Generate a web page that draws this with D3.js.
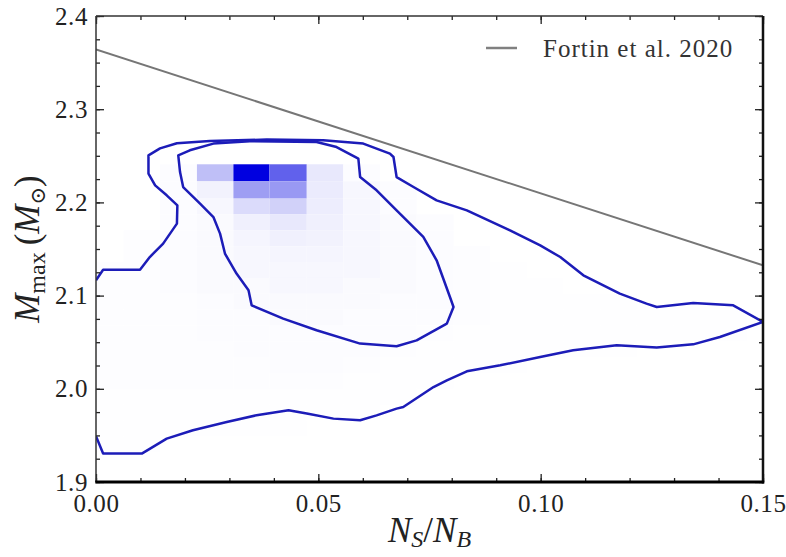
<!DOCTYPE html>
<html>
<head>
<meta charset="utf-8">
<script src="https://cdn.jsdelivr.net/npm/d3@7"></script>
<style>
  body { margin: 0; background: #fff; }
  text { font-family: "Liberation Serif", "DejaVu Serif", serif; }
</style>
</head>
<body>
<div id="container"></div>
<script>

// Tick values
var xTicks = [0.00, 0.05, 0.10, 0.15];
var yTicks = [1.9, 2.0, 2.1, 2.2, 2.3, 2.4];

// Fortin et al. 2020 bound (two end points)
var fortinX = [0.0, 0.15];
var fortinY = [2.364, 2.1325];

// Histogram bin edges
var xEdges = [0, 0.0062, 0.0144, 0.0227, 0.0309, 0.0390, 0.0474, 0.0556, 0.0639, 0.0721,
    0.0804, 0.0886, 0.0969, 0.1051, 0.1134, 0.1216, 0.1299, 0.1381, 0.1464, 0.15];
var yEdges = [2.2409, 2.2226, 2.2041, 2.1872, 2.1701, 2.1530, 2.1360, 2.1190, 2.1020,
    2.0850, 2.0680, 2.0510, 2.0340, 2.0170, 2.0000, 1.9830, 1.9660, 1.9490, 1.9320];

// Histogram counts, one row per y bin (top to bottom)
var counts = [
    [0, 0, 1, 25, 100, 62, 9, 1, 0, 0, 0, 0, 0, 0, 0, 0, 0, 0, 0],
    [0, 0, 1, 5, 38, 40, 8, 3, 1, 0, 0, 0, 0, 0, 0, 0, 0, 0, 0],
    [0, 0, 1, 3, 14, 18, 7, 3, 1, 0, 0, 0, 0, 0, 0, 0, 0, 0, 0],
    [0, 0, 1, 2, 6, 9, 6, 3, 2, 1, 0, 0, 0, 0, 0, 0, 0, 0, 0],
    [0, 0.6, 1, 2, 4, 6, 5, 3, 2, 1, 0, 0, 0, 0, 0, 0, 0, 0, 0],
    [0, 0.6, 1, 2, 3, 4, 4, 3, 2, 1, 0.6, 0, 0, 0, 0, 0, 0, 0, 0],
    [0.6, 0.6, 1, 2, 3, 3, 3, 3, 2, 1, 0.6, 0.3, 0, 0, 0, 0, 0, 0, 0],
    [0.6, 0.6, 1, 2, 2, 3, 3, 2, 2, 1, 0.6, 0.3, 0.3, 0, 0, 0, 0, 0, 0],
    [0.6, 0.6, 0.6, 1, 2, 2, 2, 2, 1, 1, 0.6, 0.3, 0.3, 0.3, 0.3, 0, 0, 0, 0],
    [0.6, 0.6, 0.6, 1, 1, 2, 2, 1, 1, 1, 0.6, 0.3, 0.3, 0.3, 0.3, 0.3, 0.3, 0.3, 0],
    [0.6, 0.6, 0.6, 1, 1, 1, 1, 1, 1, 0.6, 0.3, 0.3, 0.3, 0.3, 0.3, 0.3, 0.3, 0.3, 0],
    [0.6, 0.6, 0.6, 0.6, 1, 1, 1, 1, 0.6, 0.3, 0.3, 0.3, 0.3, 0.3, 0.3, 0, 0, 0, 0],
    [0.6, 0.6, 0.6, 0.6, 0.6, 1, 1, 0.6, 0.3, 0.3, 0.3, 0.3, 0, 0, 0, 0, 0, 0, 0],
    [0.6, 0.6, 0.6, 0.6, 0.6, 0.6, 0.6, 0.3, 0.3, 0.3, 0, 0, 0, 0, 0, 0, 0, 0, 0],
    [0.3, 0.3, 0.3, 0.3, 0.3, 0.3, 0.3, 0.3, 0.3, 0, 0, 0, 0, 0, 0, 0, 0, 0, 0],
    [0.3, 0.3, 0.3, 0.3, 0.3, 0.3, 0.3, 0.3, 0, 0, 0, 0, 0, 0, 0, 0, 0, 0, 0],
    [0.3, 0.3, 0.3, 0.3, 0.3, 0.3, 0, 0, 0, 0, 0, 0, 0, 0, 0, 0, 0, 0, 0],
    [0.3, 0.3, 0, 0, 0, 0, 0, 0, 0, 0, 0, 0, 0, 0, 0, 0, 0, 0, 0]
];

// Outer contour (open at the left edge)
var outerX = [0, 0.0016, 0.0099, 0.0121, 0.0151, 0.0182, 0.0183, 0.0159, 0.0133, 0.0118,
    0.0118, 0.0144, 0.0182, 0.0256, 0.0384, 0.0511, 0.0601, 0.0661, 0.0669, 0.0676,
    0.0714, 0.0766, 0.0834, 0.0931, 0.0999, 0.1044, 0.1096, 0.1178, 0.1238, 0.1261,
    0.1343, 0.1433, 0.15, 0.1403, 0.1343, 0.1261, 0.1171, 0.1073, 0.0999, 0.0909,
    0.0834, 0.0789, 0.0759, 0.0691, 0.0676, 0.0631, 0.0594, 0.0534, 0.0474, 0.0433,
    0.0361, 0.0294, 0.0218, 0.0159, 0.0103, 0.0016, 0];
var outerY = [2.1164, 2.1277, 2.1277, 2.1414, 2.1558, 2.1772, 2.1969, 2.2076, 2.2183, 2.2309,
    2.2505, 2.2580, 2.2634, 2.2659, 2.2674, 2.2666, 2.2631, 2.2524, 2.2487, 2.2272,
    2.2165, 2.2022, 2.1915, 2.1700, 2.1539, 2.1414, 2.1218, 2.1021, 2.0914, 2.0878,
    2.0920, 2.0896, 2.0717, 2.0556, 2.0477, 2.0442, 2.0467, 2.0413, 2.0341, 2.0252,
    2.0188, 2.0091, 2.0019, 1.9805, 1.9787, 1.9715, 1.9662, 1.9680, 1.9734, 1.9769,
    1.9716, 1.9644, 1.9555, 1.9465, 1.9305, 1.9305, 1.9490];

// Inner contour (closed)
var innerX = [0.0185, 0.0189, 0.0196, 0.0234, 0.0264, 0.0279, 0.0290, 0.0316, 0.0343, 0.0350,
    0.0421, 0.0496, 0.0594, 0.0676, 0.0721, 0.0789, 0.0804, 0.0796, 0.0766, 0.0736,
    0.0676, 0.0631, 0.0594, 0.0590, 0.0541, 0.0496, 0.0346, 0.0264, 0.0211];
var innerY = [2.2505, 2.2326, 2.2165, 2.1987, 2.1843, 2.1665, 2.1451, 2.1236, 2.1057, 2.0896,
    2.0753, 2.0628, 2.0485, 2.0456, 2.0520, 2.0699, 2.0878, 2.0985, 2.1379, 2.1629,
    2.1915, 2.2130, 2.2272, 2.2470, 2.2594, 2.2648, 2.2656, 2.2631, 2.2559];

// Basic parameters
var WIDTH = 786,
    HEIGHT = 557;
var margin = { left: 96, right: 23, top: 16, bottom: 75 };

var svg = d3.select('#container')
    .append('svg')
    .attr('width', WIDTH)
    .attr('height', HEIGHT);

var x = d3.scaleLinear()
    .domain([0, 0.15])
    .range([margin.left, WIDTH - margin.right]);

var y = d3.scaleLinear()
    .domain([1.9, 2.4])
    .range([HEIGHT - margin.bottom, margin.top]);

var color = d3.scaleLinear()
    .domain([0, 100])
    .range(['#ffffff', '#0000e0']);

svg.append('clipPath')
    .attr('id', 'plot-clip')
    .append('rect')
    .attr('x', x(0))
    .attr('y', y(2.4))
    .attr('width', x(0.15) - x(0))
    .attr('height', y(1.9) - y(2.4));

var plot = svg.append('g').attr('clip-path', 'url(#plot-clip)');

// Histogram cells
var cells = [];
counts.forEach(function(row, j) {
    row.forEach(function(v, i) {
        if (v > 0) cells.push({ i: i, j: j, v: v });
    });
});

plot.selectAll('.cell')
    .data(cells)
    .enter()
    .append('rect')
    .attr('class', 'cell')
    .attr('x', function(d) { return x(xEdges[d.i]); })
    .attr('y', function(d) { return y(yEdges[d.j]); })
    .attr('width', function(d) { return x(xEdges[d.i + 1]) - x(xEdges[d.i]); })
    .attr('height', function(d) { return y(yEdges[d.j + 1]) - y(yEdges[d.j]); })
    .attr('fill', function(d) { return color(d.v); });

// Contours
var line = d3.line()
    .x(function(d) { return x(d[0]); })
    .y(function(d) { return y(d[1]); });

plot.append('path')
    .datum(d3.zip(outerX, outerY))
    .attr('d', line)
    .attr('fill', 'none')
    .attr('stroke', '#1c1cb8')
    .attr('stroke-width', 2.5)
    .attr('stroke-linejoin', 'round');

plot.append('path')
    .datum(d3.zip(innerX, innerY))
    .attr('d', function(d) { return line(d) + 'Z'; })
    .attr('fill', 'none')
    .attr('stroke', '#1c1cb8')
    .attr('stroke-width', 2.5)
    .attr('stroke-linejoin', 'round');

// Fortin et al. line
plot.append('path')
    .datum(d3.zip(fortinX, fortinY))
    .attr('d', line)
    .attr('fill', 'none')
    .attr('stroke', '#767676')
    .attr('stroke-width', 2);

// Axes: major + minor ticks, pointing inward on all four sides
var xMinor = d3.range(0, 0.1501, 0.01);
var yMinor = d3.range(1.9, 2.4001, 0.025);

var drawAxis = function(axis, tx, ty) {
    var g = svg.append('g')
        .attr('transform', 'translate(' + tx + ',' + ty + ')')
        .call(axis);
    g.select('.domain').remove();
    g.selectAll('.tick line').attr('stroke', '#222').attr('stroke-width', 1.3);
    return g;
};

var yb = y(1.9), yt = y(2.4), xl = x(0), xr = x(0.15);

drawAxis(d3.axisBottom(x).tickValues(xTicks).tickSize(-8).tickPadding(12)
    .tickFormat(d3.format('.2f')), 0, yb);
drawAxis(d3.axisBottom(x).tickValues(xMinor).tickSize(-4).tickFormat(''), 0, yb);
drawAxis(d3.axisTop(x).tickValues(xTicks).tickSize(-8).tickFormat(''), 0, yt);
drawAxis(d3.axisTop(x).tickValues(xMinor).tickSize(-4).tickFormat(''), 0, yt);

drawAxis(d3.axisLeft(y).tickValues(yTicks).tickSize(-8).tickPadding(8)
    .tickFormat(d3.format('.1f')), xl, 0);
drawAxis(d3.axisLeft(y).tickValues(yMinor).tickSize(-4).tickFormat(''), xl, 0);
drawAxis(d3.axisRight(y).tickValues(yTicks).tickSize(-8).tickFormat(''), xr, 0);
drawAxis(d3.axisRight(y).tickValues(yMinor).tickSize(-4).tickFormat(''), xr, 0);

svg.selectAll('.tick text')
    .attr('font-size', 25)
    .attr('letter-spacing', 0.6)
    .attr('fill', '#222');

// Spines
svg.append('line').attr('x1', xl).attr('x2', xr).attr('y1', yt).attr('y2', yt)
    .attr('stroke', '#333').attr('stroke-width', 1.5);
svg.append('line').attr('x1', xl).attr('x2', xl).attr('y1', yt).attr('y2', yb)
    .attr('stroke', '#333').attr('stroke-width', 1.5);
svg.append('line').attr('x1', xr).attr('x2', xr).attr('y1', yt).attr('y2', yb + 1.5)
    .attr('stroke', '#111').attr('stroke-width', 2.5);
svg.append('line').attr('x1', xl - 0.75).attr('x2', xr + 1.2).attr('y1', yb).attr('y2', yb)
    .attr('stroke', '#000').attr('stroke-width', 3);

// Legend
svg.append('line')
    .attr('x1', 486).attr('x2', 517)
    .attr('y1', 48).attr('y2', 48)
    .attr('stroke', '#808080')
    .attr('stroke-width', 2.5);

svg.append('text')
    .attr('x', 543)
    .attr('y', 57)
    .attr('font-size', 25)
    .attr('letter-spacing', 1)
    .attr('fill', '#333')
    .text('Fortin et al. 2020');

// Axis labels
var xLabel = svg.append('text')
    .attr('x', (xl + xr) / 2)
    .attr('y', 542)
    .attr('text-anchor', 'middle')
    .attr('font-size', 35)
    .attr('fill', '#222');
xLabel.append('tspan').attr('font-style', 'italic').text('N');
xLabel.append('tspan').attr('font-style', 'italic').attr('font-size', 24).attr('dy', 5).text('S');
xLabel.append('tspan').attr('dy', -5).text('/');
xLabel.append('tspan').attr('font-style', 'italic').text('N');
xLabel.append('tspan').attr('font-style', 'italic').attr('font-size', 24).attr('dy', 5).text('B');

var yLabel = svg.append('text')
    .attr('transform', 'translate(39,' + ((yt + yb) / 2) + ') rotate(-90)')
    .attr('text-anchor', 'middle')
    .attr('font-size', 35)
    .attr('fill', '#222');
yLabel.append('tspan').attr('font-style', 'italic').text('M');
yLabel.append('tspan').attr('font-size', 24).attr('dy', 6).text('max');
yLabel.append('tspan').attr('dy', -6).text('\u2009(');
yLabel.append('tspan').attr('font-style', 'italic').text('M');
yLabel.append('tspan').attr('font-size', 21).attr('dy', 6).text('\u2299');
yLabel.append('tspan').attr('dy', -6).text(')');

</script>
</body>
</html>
